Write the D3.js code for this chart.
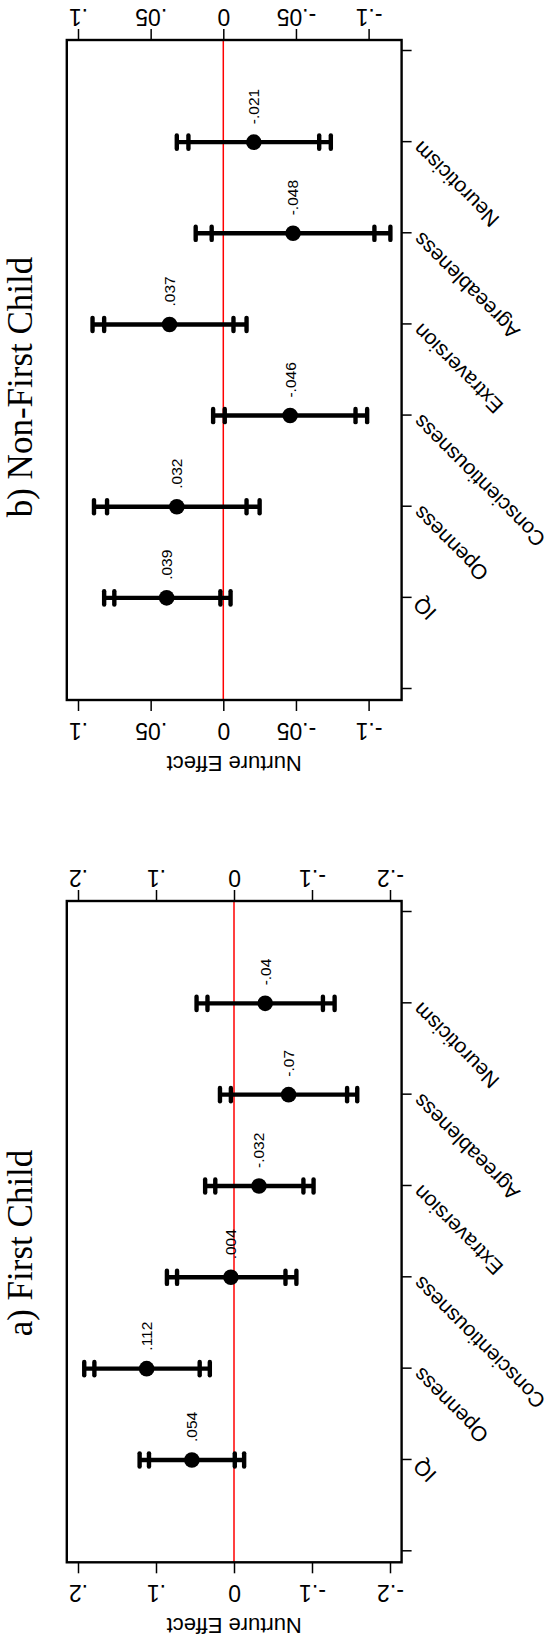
<!DOCTYPE html>
<html>
<head>
<meta charset="utf-8">
<script src="https://cdn.jsdelivr.net/npm/d3@7"></script>
<style>
  body { margin: 0; background: #fff; }
  svg { display: block; }
</style>
</head>
<body>
<div id="chart"></div>
<script>
// ---------- DATA ----------
const traits = ["IQ", "Openness", "Conscientiousness", "Extraversion", "Agreeableness", "Neuroticism"];

// a) First Child
const estFirst  = [0.054, 0.112, 0.004, -0.032, -0.070, -0.040];
const lo90First = [-0.001, 0.044, -0.066, -0.089, -0.145, -0.114];
const hi90First = [0.109, 0.179, 0.073, 0.024, 0.004, 0.034];
const lo95First = [-0.013, 0.031, -0.080, -0.102, -0.158, -0.129];
const hi95First = [0.121, 0.192, 0.086, 0.037, 0.018, 0.048];
const ticksFirst = [0.2, 0.1, 0, -0.1, -0.2];

// b) Non-First Child
const estLater  = [0.039, 0.032, -0.046, 0.037, -0.048, -0.021];
const lo90Later = [0.002, -0.016, -0.091, -0.007, -0.104, -0.066];
const hi90Later = [0.075, 0.080, -0.001, 0.082, 0.008, 0.024];
const lo95Later = [-0.005, -0.025, -0.099, -0.016, -0.115, -0.074];
const hi95Later = [0.082, 0.089, 0.007, 0.090, 0.019, 0.032];
const ticksLater = [0.1, 0.05, 0, -0.05, -0.1];

// ---------- PAGE SETUP ----------
const FRAME_WIDTH = 551;
const FRAME_HEIGHT = 1642;
// the figure is laid out in landscape, then turned a quarter turn
const PLOT_TOP = 66.8;
const PLOT_BOTTOM = 401.6;
const SANS = "'Liberation Sans', Arial, sans-serif";
const SERIF = "'Liberation Serif', 'Times New Roman', serif";

// stata style numbers: .05, -.1, 0
const fmt = v => v === 0 ? "0" : String(+v.toFixed(3)).replace(/^(-?)0\./, "$1.");

const svg = d3.select("#chart")
  .append("svg")
  .attr("width", FRAME_WIDTH)
  .attr("height", FRAME_HEIGHT);

svg.append("rect").attr("width", FRAME_WIDTH).attr("height", FRAME_HEIGHT).attr("fill", "#fff");

const root = svg.append("g")
  .attr("transform", `translate(0,${FRAME_HEIGHT}) rotate(-90)`);

const panels = [
  { title: "a) First Child", left: 79.7, right: 741, titleX: 399,
    domain: [0.2, -0.2], range: [78, 390], ticks: ticksFirst,
    est: estFirst, lo90: lo90First, hi90: hi90First, lo95: lo95First, hi95: hi95First },
  { title: "b) Non-First Child", left: 942, right: 1602, titleX: 1255,
    domain: [0.1, -0.1], range: [78, 368.6], ticks: ticksLater,
    est: estLater, lo90: lo90Later, hi90: hi90Later, lo95: lo95Later, hi95: hi95Later }
];

function drawPanel(p) {
  const g = root.append("g");

  const x = d3.scaleLinear().domain([0, traits.length + 1]).range([p.left + 11, p.right - 11]);
  const y = d3.scaleLinear().domain(p.domain).range(p.range);

  // zero line
  g.append("line")
    .attr("x1", p.left).attr("x2", p.right)
    .attr("y1", y(0)).attr("y2", y(0))
    .attr("stroke", "#ff0000").attr("stroke-width", 1.5);

  // left value axis (bottom of the page)
  const yLeft = g.append("g")
    .attr("transform", `translate(${p.left},0)`)
    .call(d3.axisLeft(y).tickValues(p.ticks).tickSize(11).tickFormat(fmt));
  yLeft.select(".domain").remove();
  yLeft.selectAll(".tick line").attr("stroke", "#000").attr("stroke-width", 1.5);
  yLeft.selectAll(".tick text")
    .attr("x", 0).attr("dy", "0.35em")
    .attr("text-anchor", "middle")
    .attr("transform", "translate(-31,0) rotate(-90)")
    .attr("fill", "#000")
    .style("font-size", "23px").style("font-family", SANS);

  // right value axis (top of the page)
  const yRight = g.append("g")
    .attr("transform", `translate(${p.right},0)`)
    .call(d3.axisRight(y).tickValues(p.ticks).tickSize(11).tickFormat(fmt));
  yRight.select(".domain").remove();
  yRight.selectAll(".tick line").attr("stroke", "#000").attr("stroke-width", 1.5);
  yRight.selectAll(".tick text")
    .attr("x", 0).attr("dy", "0.35em")
    .attr("text-anchor", "middle")
    .attr("transform", "translate(22.7,0) rotate(-90)")
    .attr("fill", "#000")
    .style("font-size", "23px").style("font-family", SANS);

  // category axis
  const xAxis = g.append("g")
    .attr("transform", `translate(0,${PLOT_BOTTOM})`)
    .call(d3.axisBottom(x)
      .tickValues(d3.range(traits.length + 2))
      .tickSize(10)
      .tickFormat(i => (i >= 1 && i <= traits.length) ? traits[i - 1] : ""));
  xAxis.select(".domain").remove();
  xAxis.selectAll(".tick line").attr("stroke", "#000").attr("stroke-width", 1.5);
  xAxis.selectAll(".tick text")
    .attr("y", 0).attr("dy", 0)
    .attr("text-anchor", "end")
    .attr("transform", "translate(1.7,20.4) rotate(-45)")
    .attr("fill", "#000")
    .style("font-size", "21px").style("font-family", SANS);

  // frame
  g.append("rect")
    .attr("x", p.left).attr("y", PLOT_TOP)
    .attr("width", p.right - p.left).attr("height", PLOT_BOTTOM - PLOT_TOP)
    .attr("fill", "none").attr("stroke", "#000").attr("stroke-width", 2.4);

  // axis title
  g.append("text")
    .attr("transform", `translate(${p.left - 63.7},${(PLOT_TOP + PLOT_BOTTOM) / 2}) rotate(-90)`)
    .attr("dy", "0.35em")
    .attr("text-anchor", "middle")
    .style("font-size", "22px").style("font-family", SANS)
    .text("Nurture Effect");

  // panel title
  g.append("text")
    .attr("x", p.titleX).attr("y", 32)
    .attr("text-anchor", "middle")
    .style("font-size", "35px").style("font-family", SERIF)
    .text(p.title);

  const idx = d3.range(traits.length);

  // confidence intervals
  g.append("g").selectAll("line")
    .data(idx)
    .join("line")
    .attr("x1", i => x(i + 1)).attr("x2", i => x(i + 1))
    .attr("y1", i => y(p.hi95[i])).attr("y2", i => y(p.lo95[i]))
    .attr("stroke", "#000").attr("stroke-width", 4.4);

  const caps = [];
  idx.forEach(i => {
    [p.lo95[i], p.lo90[i], p.hi90[i], p.hi95[i]].forEach(v => caps.push({ i, v }));
  });
  g.append("g").selectAll("line")
    .data(caps)
    .join("line")
    .attr("x1", d => x(d.i + 1) - 6.6).attr("x2", d => x(d.i + 1) + 6.6)
    .attr("y1", d => y(d.v)).attr("y2", d => y(d.v))
    .attr("stroke", "#000").attr("stroke-width", 4.4)
    .attr("stroke-linecap", "round");

  // point estimates
  g.append("g").selectAll("circle")
    .data(idx)
    .join("circle")
    .attr("cx", i => x(i + 1)).attr("cy", i => y(p.est[i]))
    .attr("r", 7.8)
    .attr("fill", "#000");

  g.append("g").selectAll("text")
    .data(idx)
    .join("text")
    .attr("x", i => x(i + 1) + 18).attr("y", i => y(p.est[i]))
    .attr("dy", "0.35em")
    .style("font-size", "15.5px").style("font-family", SANS)
    .text(i => fmt(p.est[i]));
}

panels.forEach(drawPanel);
</script>
</body>
</html>
